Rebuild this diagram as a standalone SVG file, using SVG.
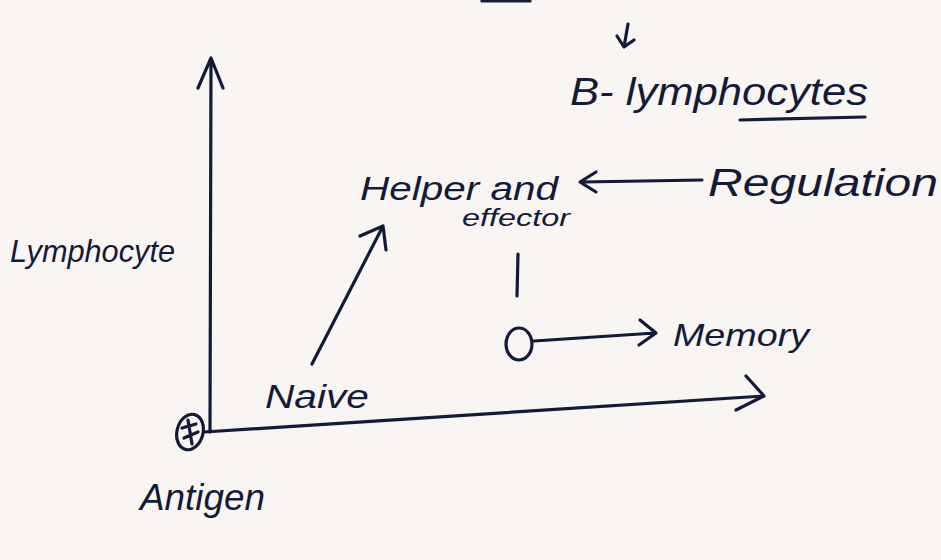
<svg xmlns="http://www.w3.org/2000/svg" width="941" height="560" viewBox="0 0 941 560">
<style>
.ink{fill:none;stroke:#141a3a;stroke-width:3.2;stroke-linecap:round;stroke-linejoin:round}
.t{font-family:"Liberation Sans",Arial,sans-serif;font-style:italic;fill:#141a3a}
</style>
<rect width="941" height="560" fill="#f8f5f3"/>
<g id="connectors">
<path class="ink" stroke-width="2.5" d="M482 1 L530 1"/>
<path class="ink" d="M628 24 L624 47 M617 36 L624 47 L634 40"/>
<path class="ink" d="M210 432 L211 60 M198 88 L211 58 L223 88"/>
<path class="ink" d="M204 432 L764 396 M746 376 L764 396 L736 410"/>
<path class="ink" d="M312 364 L382 228 M360 236 L383 226 L386 250"/>
<path class="ink" d="M702 180 L582 182 M596 172 L580 182 L596 192"/>
<path class="ink" d="M518 254 L517 296"/>
<path class="ink" d="M534 341 L655 333 M640 320 L656 333 L639 345"/>
</g>
<g id="antigen">
<ellipse class="ink" cx="190" cy="432" rx="13" ry="18" transform="rotate(15 190 432)"/>
<path class="ink" stroke-width="2.5" d="M182 428 L196 424 M184 438 L198 432 M188 420 L192 444"/>
<text class="t" x="140" y="510" font-size="36" textLength="125" lengthAdjust="spacingAndGlyphs">Antigen</text>
</g>
<g id="lymphocyte"><text class="t" x="10" y="262" font-size="32" textLength="165" lengthAdjust="spacingAndGlyphs">Lymphocyte</text></g>
<g id="naive"><text class="t" x="265" y="408" font-size="34" textLength="104" lengthAdjust="spacingAndGlyphs">Naive</text></g>
<g id="helper">
<text class="t" x="360" y="200" font-size="34" textLength="198" lengthAdjust="spacingAndGlyphs">Helper and</text>
<text class="t" x="462" y="226" font-size="24" textLength="108" lengthAdjust="spacingAndGlyphs">effector</text>
</g>
<g id="regulation"><text class="t" x="708" y="196" font-size="38" textLength="230" lengthAdjust="spacingAndGlyphs">Regulation</text></g>
<g id="blymph">
<text class="t" x="570" y="105" font-size="38" textLength="298" lengthAdjust="spacingAndGlyphs">B- lymphocytes</text>
<path class="ink" d="M740 120 L865 117"/>
</g>
<g id="node-o"><ellipse class="ink" cx="519" cy="344" rx="13" ry="16"/></g>
<g id="memory"><text class="t" x="673" y="346" font-size="32" textLength="136" lengthAdjust="spacingAndGlyphs">Memory</text></g>
</svg>
